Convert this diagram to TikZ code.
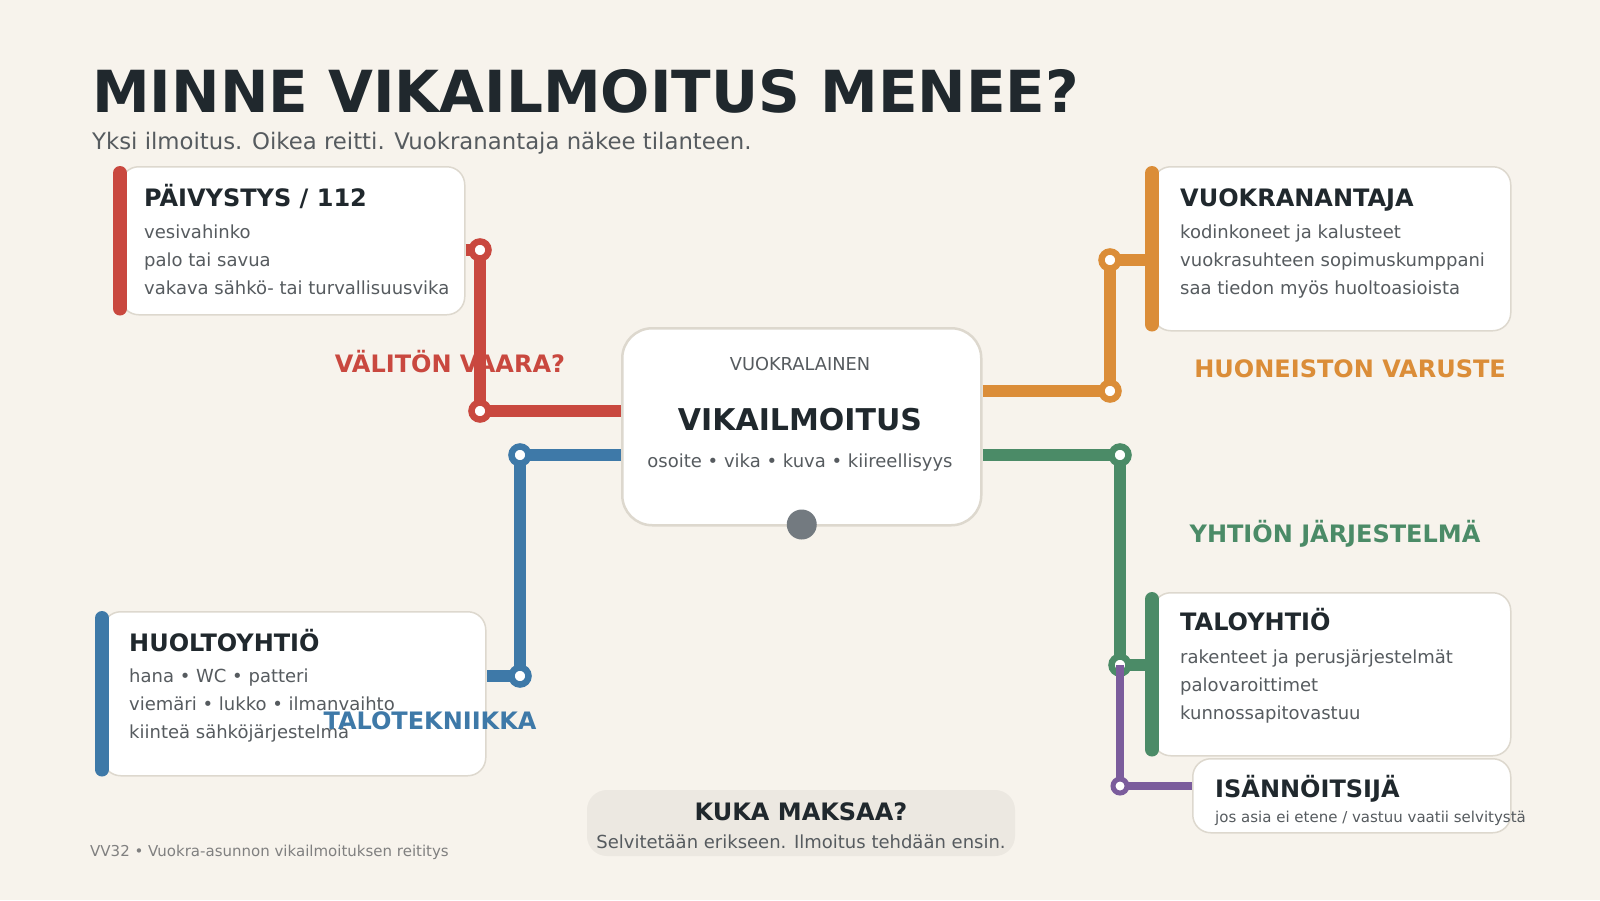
\documentclass[tikz,border=0pt]{standalone}
\usepackage{fontspec}
\setmainfont{DejaVu Sans}
\usepackage{xcolor}
\usetikzlibrary{positioning, calc}

\definecolor{paper}{HTML}{F7F3EC}
\definecolor{cardline}{HTML}{DDD8CE}
\definecolor{ink}{HTML}{20282D}
\definecolor{softink}{HTML}{565B5F}
\definecolor{railred}{HTML}{C9483F}
\definecolor{railorange}{HTML}{DB8D38}
\definecolor{railgreen}{HTML}{4B8B67}
\definecolor{railblue}{HTML}{3E79A8}
\definecolor{railpurple}{HTML}{7B5C9C}
\definecolor{dotgray}{HTML}{737A80}
\definecolor{notefill}{HTML}{ECE8E1}

\tikzset{
  card/.style={draw=cardline, line width=1.5pt, fill=white, rounded corners=18pt, anchor=north west, inner sep=0pt},
  railbar/.style={line width=14pt, line cap=round, shorten <=7pt, shorten >=7pt},
  metro/.style={line width=12pt},
  station/.style={circle, draw=#1, fill=white, line width=6.5pt, minimum size=17pt, inner sep=0pt},
  cardtitle/.style={anchor=base west, inner sep=0pt, text=ink, font=\bfseries\fontsize{24}{28}\selectfont},
  cardtext/.style={anchor=base west, inner sep=0pt, text=softink, font=\fontsize{18}{21}\selectfont},
  routelabel/.style={inner sep=0pt, font=\bfseries\fontsize{24}{28}\selectfont},
}

\begin{document}
\begin{tikzpicture}[x=1pt, y=-1pt]
  \fill[paper] (0,0) rectangle (1600,900);
  \useasboundingbox (0,0) rectangle (1600,900);

  % heading
  \node[anchor=base west, inner sep=0pt, text=ink, font=\bfseries\fontsize{58}{64}\selectfont] (title) at (92,112) {MINNE VIKAILMOITUS MENEE?};
  \node[anchor=base west, inner sep=0pt, text=softink, font=\fontsize{22.8}{26}\selectfont] (subtitle) at (92,149) {Yksi ilmoitus. Oikea reitti. Vuokranantaja näkee tilanteen.};

  % cards
  \node[card, minimum width=344pt, minimum height=148pt] (paiv) at (120,166) {};
  \node[card, minimum width=358pt, minimum height=164pt] (vuok) at (1152,166) {};
  \node[card, minimum width=383pt, minimum height=164pt] (huol) at (102,611) {};
  \node[card, minimum width=358pt, minimum height=163pt] (talo) at (1152,592) {};
  \node[card, minimum width=318pt, minimum height=74pt] (isan) at (1192,758) {};
  \node[card, minimum width=359pt, minimum height=197pt, rounded corners=30pt, line width=2.5pt] (vika) at (621,327) {};

  % station points
  \coordinate (r1) at (480,250);
  \coordinate (r2) at (480,411);
  \coordinate (o1) at (1110,260);
  \coordinate (o2) at (1110,391);
  \coordinate (g1) at (1120,455);
  \coordinate (g2) at (1120,665);
  \coordinate (p1) at (1120,786);
  \coordinate (b1) at (520,455);
  \coordinate (b2) at (520,676);

  % route labels
  \node[routelabel, text=railred] (vaara) at (450,362) {VÄLITÖN VAARA?};
  \node[routelabel, text=railorange, anchor=east] (varuste) at (1506,369) {HUONEISTON VARUSTE};
  \node[routelabel, text=railgreen] (jarj) at (1335,534) {YHTIÖN JÄRJESTELMÄ};

  % lines
  \draw[metro, railred] (paiv.east |- r1) -- (r1) -- (r2) -- (vika.west |- r2);
  \draw[metro, railorange] (vika.east |- o2) -- (o2) -- (o1) -- (vuok.west |- o1);
  \draw[metro, railgreen] (vika.east |- g1) -- (g1) -- (g2) -- (talo.west |- g2);
  \draw[metro, railblue] (vika.west |- b1) -- (b1) -- (b2) -- (huol.east |- b2);
  \node[station=railred] (st-r1) at (r1) {};
  \node[station=railred] (st-r2) at (r2) {};
  \node[station=railorange] (st-o1) at (o1) {};
  \node[station=railorange] (st-o2) at (o2) {};
  \node[station=railgreen] (st-g1) at (g1) {};
  \node[station=railgreen] (st-g2) at (g2) {};
  \node[station=railblue] (st-b1) at (b1) {};
  \node[station=railblue] (st-b2) at (b2) {};
  \draw[line width=8pt, railpurple] (g2) -- (p1) -- (isan.west |- p1);
  \node[station=railpurple, line width=5pt, minimum size=14pt] (st-p1) at (p1) {};

  % side bars
  \draw[railbar, railred] (paiv.north west) -- (paiv.south west);
  \draw[railbar, railorange] (vuok.north west) -- (vuok.south west);
  \draw[railbar, railblue] (huol.north west) -- (huol.south west);
  \draw[railbar, railgreen] (talo.north west) -- (talo.south west);

  % card texts
  \node[cardtitle] (paiv-t) at (144,206) {PÄIVYSTYS / 112};
  \foreach \txt [count=\i] in {vesivahinko, palo tai savua, vakava sähkö- tai turvallisuusvika}
    \node[cardtext] (paiv-\i) at (144,238+28*\i-28) {\txt};

  \node[cardtitle] (vuok-t) at (1180,206) {VUOKRANANTAJA};
  \foreach \txt [count=\i] in {kodinkoneet ja kalusteet, vuokrasuhteen sopimuskumppani, saa tiedon myös huoltoasioista}
    \node[cardtext] (vuok-\i) at (1180,238+28*\i-28) {\txt};

  \node[cardtitle] (huol-t) at (129,651) {HUOLTOYHTIÖ};
  \foreach \txt [count=\i] in {hana • WC • patteri, viemäri • lukko • ilmanvaihto, kiinteä sähköjärjestelmä}
    \node[cardtext] (huol-\i) at (129,682+28*\i-28) {\txt};

  \node[cardtitle] (talo-t) at (1180,630) {TALOYHTIÖ};
  \foreach \txt [count=\i] in {rakenteet ja perusjärjestelmät, palovaroittimet, kunnossapitovastuu}
    \node[cardtext] (talo-\i) at (1180,663+28*\i-28) {\txt};

  \node[cardtitle] (isan-t) at (1215,797) {ISÄNNÖITSIJÄ};
  \node[cardtext, font=\fontsize{15}{17}\selectfont] (isan-1) at (1215,822) {jos asia ei etene / vastuu vaatii selvitystä};

  % centre card
  \node[anchor=base, inner sep=0pt, text=softink, font=\fontsize{17.8}{20}\selectfont] (vika-k) at (800,370) {VUOKRALAINEN};
  \node[anchor=base, inner sep=0pt, text=ink, font=\bfseries\fontsize{30}{34}\selectfont] (vika-t) at (800,430) {VIKAILMOITUS};
  \node[anchor=base, inner sep=0pt, text=softink, font=\fontsize{18}{21}\selectfont] (vika-s) at (800,467) {osoite • vika • kuva • kiireellisyys};
  \node[circle, fill=dotgray, minimum size=30pt, inner sep=0pt] (vika-dot) at ([yshift=2pt]vika.south) {};

  \node[routelabel, text=railblue] (tekn) at (430,721) {TALOTEKNIIKKA};

  % payment note
  \fill[notefill, rounded corners=20pt] (587,790) rectangle (1015,856);
  \node[anchor=base, inner sep=0pt, text=ink, font=\bfseries\fontsize{24}{27}\selectfont] (maksu-t) at (801,820) {KUKA MAKSAA?};
  \node[anchor=base, inner sep=0pt, text=softink, font=\fontsize{18}{21}\selectfont] (maksu-s) at (801,848) {Selvitetään erikseen. Ilmoitus tehdään ensin.};

  % footer
  \node[anchor=base west, inner sep=0pt, text=gray, font=\fontsize{15}{17}\selectfont] (footer) at (90,856) {VV32 • Vuokra-asunnon vikailmoituksen reititys};
\end{tikzpicture}
\end{document}
